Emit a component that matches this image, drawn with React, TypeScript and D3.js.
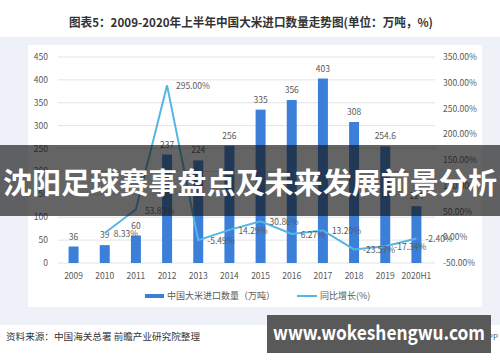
import React, { useEffect, useRef } from 'react';
import * as d3 from 'd3';

const years = ['2009', '2010', '2011', '2012', '2013', '2014', '2015', '2016', '2017', '2018', '2019', '2020H1'];
const imports = [36, 39, 60, 237, 224, 256, 335, 356, 403, 308, 254.6, 124];
const growth: (number | null)[] = [null, 8.33, 53.85, 295.0, -5.49, 14.29, 30.86, 6.27, 13.2, -23.57, -17.34, -2.4];
const leftTicks = [0, 50, 100, 150, 200, 250, 300, 350, 400, 450];
const rightTicks = [-50, 0, 50, 100, 150, 200, 250, 300, 350];

const FONT = '"Noto Sans CJK SC", "Noto Sans", sans-serif';

const App: React.FC = () => {
  const svgRef = useRef<SVGSVGElement>(null);

  useEffect(() => {
    if (!svgRef.current) return;
    const svg = d3.select(svgRef.current);
    svg.selectAll('*').remove();

    const W = 500;
    const H = 362;

    // page backgrounds
    svg.append('rect').attr('width', W).attr('height', H).attr('fill', '#ffffff');
    svg.append('rect').attr('x', 0).attr('y', 37).attr('width', W).attr('height', 288).attr('fill', '#eef2f8');
    svg.append('rect').attr('x', 28).attr('y', 45).attr('width', 454).attr('height', 262).attr('fill', '#ffffff');

    // title
    svg.append('text')
      .attr('x', 251).attr('y', 27)
      .attr('text-anchor', 'middle')
      .attr('font-family', FONT).attr('font-weight', 'bold').attr('font-size', 12)
      .attr('fill', '#333')
      .attr('textLength', 364).attr('lengthAdjust', 'spacingAndGlyphs')
      .text('图表5：2009-2020年上半年中国大米进口数量走势图(单位：万吨，%)');

    // scales
    const x = d3.scaleBand().domain(years).range([58, 432]).paddingInner(0.68).paddingOuter(0.34);
    const yLeft = d3.scaleLinear().domain([0, 450]).range([263, 57]);
    const yRight = d3.scaleLinear().domain([-50, 350]).range([263, 57]);

    // grid + left axis
    const gl = svg.append('g');
    gl.selectAll('line').data(leftTicks).enter().append('line')
      .attr('x1', 58).attr('x2', 435)
      .attr('y1', d => yLeft(d)).attr('y2', d => yLeft(d))
      .attr('stroke', '#e3e3e3').attr('stroke-width', 1);
    gl.selectAll('text').data(leftTicks).enter().append('text')
      .attr('x', 48).attr('y', d => yLeft(d) + 3)
      .attr('text-anchor', 'end')
      .attr('font-family', FONT).attr('font-size', 8.5).attr('fill', '#595959')
      .text(d => d);

    // right axis labels
    svg.append('g').selectAll('text').data(rightTicks).enter().append('text')
      .attr('x', 443).attr('y', d => yRight(d) + 3)
      .attr('font-family', FONT).attr('font-size', 8.5).attr('fill', '#595959')
      .text(d => `${d.toFixed(2)}%`);

    // x labels
    svg.append('g').selectAll('text').data(years).enter().append('text')
      .attr('x', d => (x(d) || 0) + x.bandwidth() / 2).attr('y', 279)
      .attr('text-anchor', 'middle')
      .attr('font-family', FONT).attr('font-size', 8.5).attr('fill', '#595959')
      .text(d => d);

    // bars
    svg.append('g').selectAll('rect').data(imports).enter().append('rect')
      .attr('x', (_, i) => x(years[i]) || 0)
      .attr('y', d => yLeft(d))
      .attr('width', x.bandwidth())
      .attr('height', d => yLeft(0) - yLeft(d))
      .attr('fill', '#3b7fd9');

    svg.append('g').selectAll('text').data(imports).enter().append('text')
      .attr('x', (_, i) => (x(years[i]) || 0) + x.bandwidth() / 2)
      .attr('y', d => yLeft(d) - 7)
      .attr('text-anchor', 'middle')
      .attr('font-family', FONT).attr('font-size', 8.5).attr('fill', '#595959')
      .text(d => d);

    // growth line
    const pts = growth
      .map((g, i) => ({ year: years[i], g }))
      .filter(d => d.g !== null) as { year: string; g: number }[];
    const line = d3.line<{ year: string; g: number }>()
      .x(d => (x(d.year) || 0) + x.bandwidth() / 2)
      .y(d => yRight(d.g));
    svg.append('path').datum(pts)
      .attr('d', line)
      .attr('fill', 'none')
      .attr('stroke', '#55b5e5')
      .attr('stroke-width', 2);

    svg.append('g').selectAll('text').data(pts).enter().append('text')
      .attr('x', d => (x(d.year) || 0) + x.bandwidth() / 2 + 9)
      .attr('y', d => yRight(d.g) + 4)
      .attr('font-family', FONT).attr('font-size', 8.5).attr('fill', '#595959')
      .text(d => `${d.g.toFixed(2)}%`);

    // legend
    const lg = svg.append('g').attr('font-family', FONT).attr('font-size', 9).attr('fill', '#595959');
    lg.append('rect').attr('x', 145).attr('y', 294).attr('width', 19).attr('height', 4).attr('fill', '#3b7fd9');
    lg.append('text').attr('x', 167).attr('y', 299).text('中国大米进口数量（万吨）');
    lg.append('line').attr('x1', 297).attr('x2', 317).attr('y1', 296).attr('y2', 296)
      .attr('stroke', '#55b5e5').attr('stroke-width', 2);
    lg.append('text').attr('x', 320).attr('y', 299).text('同比增长(%)');

    // footer
    svg.append('text')
      .attr('x', 6).attr('y', 340)
      .attr('font-family', FONT).attr('font-size', 9).attr('fill', '#333')
      .attr('textLength', 194).attr('lengthAdjust', 'spacingAndGlyphs')
      .text('资料来源：中国海关总署 前瞻产业研究院整理');
    svg.append('text')
      .attr('x', 498).attr('y', 340)
      .attr('text-anchor', 'end')
      .attr('font-family', FONT).attr('font-size', 8).attr('fill', '#555')
      .text('前瞻经济学人APP');

    // overlay banner
    svg.append('rect').attr('x', 0).attr('y', 145).attr('width', W).attr('height', 71)
      .attr('fill', 'rgba(20,20,20,0.66)');
    svg.append('text')
      .attr('x', 250).attr('y', 194)
      .attr('text-anchor', 'middle')
      .attr('font-family', FONT).attr('font-weight', 'bold').attr('font-size', 29)
      .attr('fill', '#ffffff')
      .attr('textLength', 494).attr('lengthAdjust', 'spacingAndGlyphs')
      .text('沈阳足球赛事盘点及未来发展前景分析');

    // footer site box
    svg.append('rect').attr('x', 267).attr('y', 315).attr('width', 224).attr('height', 38)
      .attr('fill', '#595959');
    svg.append('text')
      .attr('x', 379).attr('y', 340)
      .attr('text-anchor', 'middle')
      .attr('font-family', FONT).attr('font-weight', 'bold').attr('font-size', 20)
      .attr('fill', '#ffffff')
      .attr('textLength', 212).attr('lengthAdjust', 'spacingAndGlyphs')
      .text('www.wokeshengwu.com');
  }, []);

  return (
    <svg ref={svgRef} width={500} height={362} style={{ position: 'absolute', left: 0, top: 0 }} />
  );
};

export default App;
